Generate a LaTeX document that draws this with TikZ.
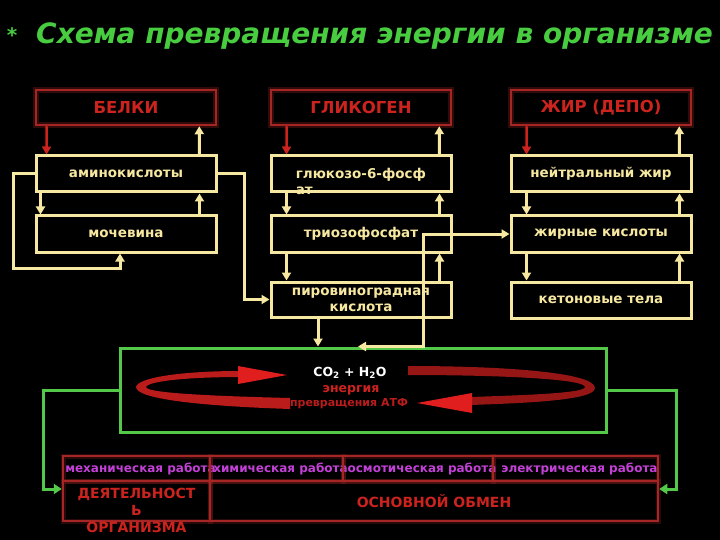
\documentclass[tikz,border=0pt]{standalone}
\usepackage{fontspec}
\setmainfont{DejaVu Sans}
\usetikzlibrary{arrows.meta}

\definecolor{titlegreen}{RGB}{72,205,64}
\definecolor{boxred}{RGB}{165,38,36}
\definecolor{headred}{RGB}{205,35,30}
\definecolor{cream}{RGB}{246,232,160}
\definecolor{linegreen}{RGB}{84,200,72}
\definecolor{workpink}{RGB}{195,65,215}
\definecolor{ringdark}{RGB}{150,22,22}
\definecolor{ringred}{RGB}{185,28,26}
\definecolor{ringbright}{RGB}{225,30,30}

\newcommand{\worklbl}[1]{\makebox[0pt]{\hspace{8pt}#1}}

\begin{document}
\begin{tikzpicture}[x=1pt, y=-1pt,
    redbox/.style={draw=boxred, line width=2.5pt, minimum width=180pt, minimum height=35pt,
      text=headred, font=\fontsize{16.5}{19}\selectfont\bfseries,
      preaction={draw=boxred, line width=6pt, opacity=0.3}},
    yellowbox/.style={draw=cream, line width=3pt, minimum width=180pt, minimum height=36pt,
      text=cream, font=\fontsize{13.5}{16}\selectfont\bfseries},
    greenbox/.style={draw=linegreen, line width=3pt, minimum width=486pt, minimum height=84pt},
    cellbox/.style={draw=boxred, line width=2.5pt, inner sep=0pt, minimum height=25pt,
      preaction={draw=boxred, line width=5pt, opacity=0.25}},
    worktext/.style={text=workpink, font=\fontsize{12}{14}\selectfont\bfseries},
    bigtext/.style={text=headred, font=\fontsize{14}{17}\selectfont\bfseries},
    yarrow/.style={draw=cream, line width=3pt, -{Triangle[width=9pt,length=8pt]}},
    rarrow/.style={draw=headred, line width=2.5pt, -{Triangle[width=9pt,length=8pt]}},
    garrow/.style={draw=linegreen, line width=3pt, -{Triangle[width=10pt,length=8pt]}},
  ]
  \fill[black] (0,0) rectangle (720,540);
  \useasboundingbox (0,0) rectangle (720,540);

  % title
  \node[text=titlegreen, font=\fontsize{20}{24}\selectfont\bfseries] (star) at (12,35) {*};
  \node[anchor=base west, inner sep=0pt, text=titlegreen,
    font=\fontsize{28}{32}\selectfont\bfseries\itshape] (title) at (36,44)
    {Схема превращения энергии в организме};

  % top row
  \node[redbox] (belki) at (126,107.5) {БЕЛКИ};
  \node[redbox] (glikogen) at (361,107.5) {ГЛИКОГЕН};
  \node[redbox] (zhir) at (601,107.5) {ЖИР (ДЕПО)};

  % yellow boxes
  \node[yellowbox] (amino) at (126,174) {аминокислоты};
  \node[yellowbox] (mochevina) at (126,234) {мочевина};
  \node[yellowbox, text height=10pt, text depth=0pt] (glukoza) at (361,174)
    {\begin{tabular}[t]{@{}l@{}}глюкозо-6-фосф\\ат\end{tabular}};
  \node[yellowbox] (trioza) at (361,234) {триозофосфат};
  \node[yellowbox, minimum height=35pt, inner sep=1pt, align=center] (piruvat) at (361,299.5)
    {пировиноградная\\кислота};
  \node[yellowbox] (neitral) at (601,174) {нейтральный жир};
  \node[yellowbox] (zhirkisl) at (601,234) {жирные кислоты};
  \node[yellowbox] (keton) at (601,300) {кетоновые тела};

  % cycle
  \node[greenbox] (cycle) at (363,390) {};
  \node[text=white, font=\fontsize{12.5}{15}\selectfont\bfseries] (water) at (350,373)
    {CO\textsubscript{2} + H\textsubscript{2}O};
  \node[text=headred, font=\fontsize{12.5}{15}\selectfont\bfseries] (energy) at (351,390) {энергия};
  \node[text=ringred, font=\fontsize{11}{13}\selectfont\bfseries] (atf) at (349,404) {превращения АТФ};

  \fill[ringred] (240,371) .. controls (185,371) and (138,377) .. (136,387)
    .. controls (136,399) and (200,406) .. (290,409) -- (290,398)
    .. controls (210,396) and (146,393) .. (146,387)
    .. controls (148,381) and (190,377) .. (240,377) -- cycle;
  \fill[ringbright] (238,366) -- (287,375) -- (238,384) -- cycle;
  \fill[ringdark] (408,366) .. controls (500,366) and (595,372) .. (595,388)
    .. controls (595,400) and (530,403) .. (470,405) -- (470,397)
    .. controls (530,395) and (585,393) .. (585,387)
    .. controls (585,379) and (500,375) .. (408,375) -- cycle;
  \fill[ringbright] (472,393) -- (417,403) -- (472,413) -- cycle;

  % table
  \node[cellbox, worktext, minimum width=147pt] (mech) at (136.5,468.5) {\worklbl{механическая работа}};
  \node[cellbox, worktext, minimum width=133pt] (him) at (276.5,468.5) {\worklbl{химическая работа}};
  \node[cellbox, worktext, minimum width=150pt] (osm) at (418,468.5) {\worklbl{осмотическая работа}};
  \node[cellbox, worktext, minimum width=165pt] (elek) at (575.5,468.5) {\worklbl{электрическая работа}};
  \node[cellbox, bigtext, minimum width=147pt, minimum height=40pt, text height=0pt, text depth=6pt] (deyat) at (136.5,501)
    {\begin{tabular}[t]{@{}c@{}}ДЕЯТЕЛЬНОСТ\\Ь\\ОРГАНИЗМА\end{tabular}};
  \node[cellbox, bigtext, minimum width=448pt, minimum height=40pt] (osnov) at (434,501) {ОСНОВНОЙ ОБМЕН};

  % red arrows
  \draw[rarrow] ([xshift=12pt]belki.south west) -- ([xshift=12pt]amino.north west);
  \draw[rarrow] ([xshift=17pt]glikogen.south west) -- ([xshift=17pt]glukoza.north west);
  \draw[rarrow] ([xshift=17pt]zhir.south west) -- ([xshift=17pt]neitral.north west);

  % yellow arrows
  \draw[yarrow] ([xshift=-18pt]amino.north east) -- ([xshift=-18pt]belki.south east);
  \draw[yarrow] ([xshift=6pt]amino.south west) -- ([xshift=6pt]mochevina.north west);
  \draw[yarrow] ([xshift=-18pt]mochevina.north east) -- ([xshift=-18pt]amino.south east);
  \draw[yarrow] (amino.west) -| (13,268) -| ([xshift=-6pt]mochevina.south);
  \draw[yarrow] (amino.east) -- (244,174) |- (piruvat.west);

  \draw[yarrow] ([xshift=-13pt]glukoza.north east) -- ([xshift=-13pt]glikogen.south east);
  \draw[yarrow] ([xshift=17pt]glukoza.south west) -- ([xshift=17pt]trioza.north west);
  \draw[yarrow] ([xshift=-13pt]trioza.north east) -- ([xshift=-13pt]glukoza.south east);
  \draw[yarrow] ([xshift=17pt]trioza.south west) -- ([xshift=17pt]piruvat.north west);
  \draw[yarrow] ([xshift=-13pt]piruvat.north east) -- ([xshift=-13pt]trioza.south east);
  \draw[yarrow] ([xshift=-43pt]piruvat.south) -- ([xshift=-43pt]piruvat.south |- cycle.north);
  \draw[yarrow, {Triangle[width=9pt,length=8pt]}-{Triangle[width=9pt,length=8pt]}]
    ([xshift=-5pt]cycle.north) -| ([xshift=62pt]trioza.center) -- (zhirkisl.west);

  \draw[yarrow] ([xshift=-13pt]neitral.north east) -- ([xshift=-13pt]zhir.south east);
  \draw[yarrow] ([xshift=17pt]neitral.south west) -- ([xshift=17pt]zhirkisl.north west);
  \draw[yarrow] ([xshift=-13pt]zhirkisl.north east) -- ([xshift=-13pt]neitral.south east);
  \draw[yarrow] ([xshift=17pt]zhirkisl.south west) -- ([xshift=17pt]keton.north west);
  \draw[yarrow] ([xshift=-13pt]keton.north east) -- ([xshift=-13pt]zhirkisl.south east);

  % green arrows
  \draw[garrow] (cycle.west) -| (43,489) -- ([yshift=12pt]deyat.west);
  \draw[garrow] (cycle.east) -| (676,489) -- ([yshift=12pt]osnov.east);
\end{tikzpicture}
\end{document}
